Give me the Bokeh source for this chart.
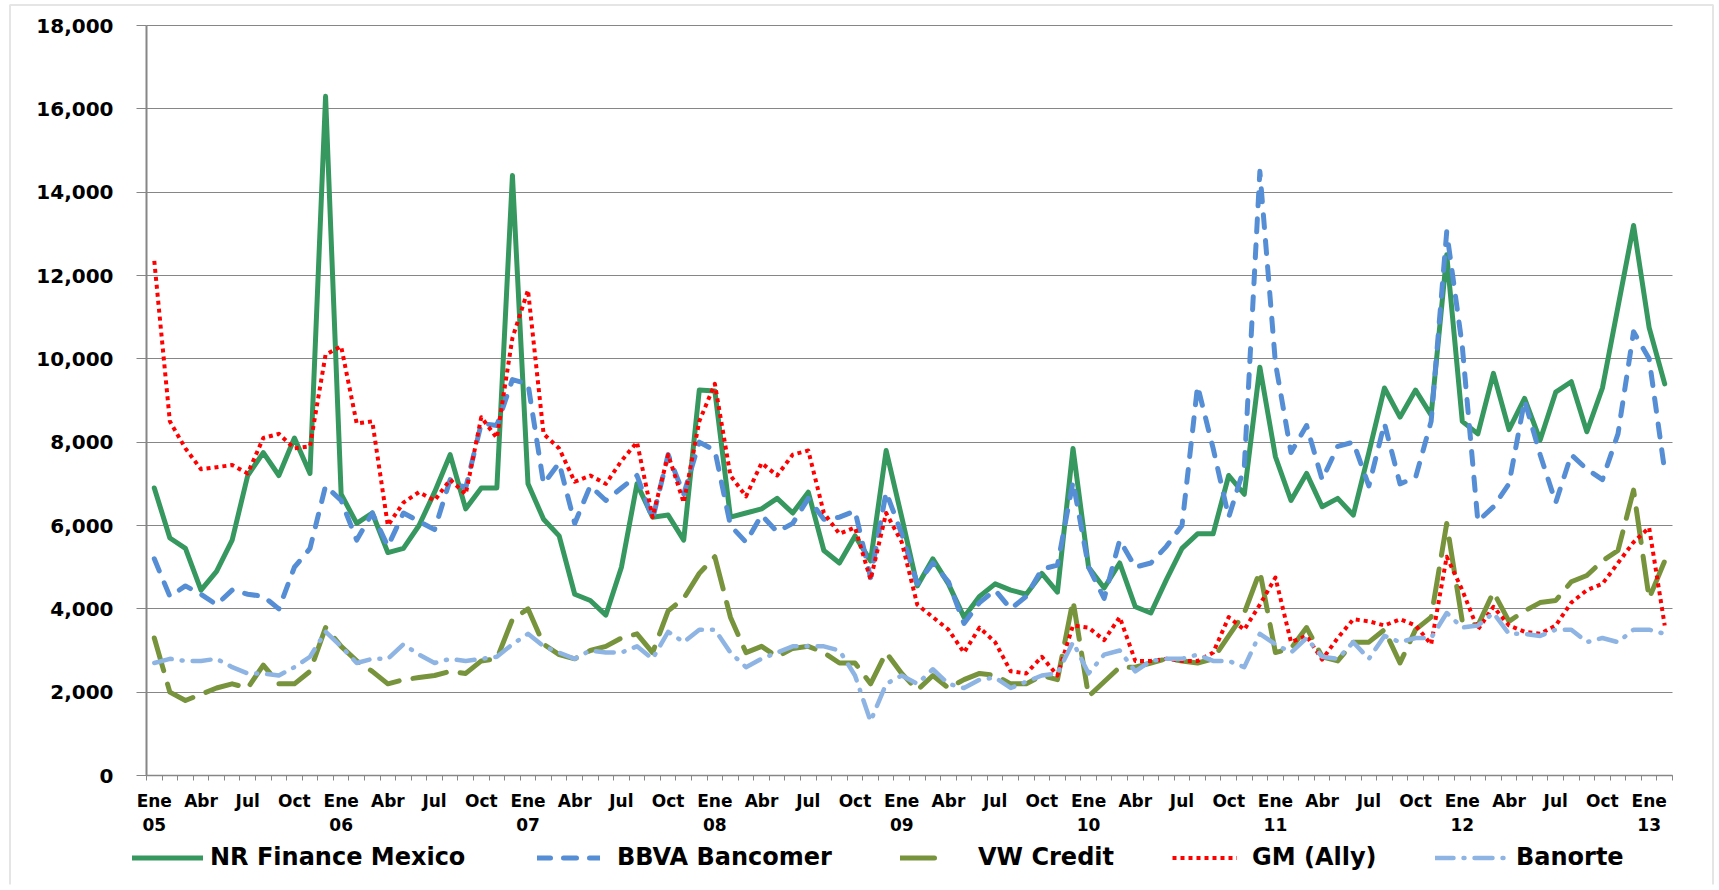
from bokeh.plotting import figure
from bokeh.models import (Range1d, FixedTicker, NumeralTickFormatter, Legend,
                          LegendItem, BoxAnnotation)
from bokeh.embed import file_html
from bokeh.resources import INLINE

# ---------------- data (monthly, Ene 2005 .. Feb 2013) ----------------
series_names = ["NR Finance Mexico", "BBVA Bancomer", "VW Credit", "GM (Ally)", "Banorte"]

nr_finance = [6900, 5700, 5450, 4450, 4900, 5650, 7200, 7750, 7200, 8100, 7250, 16300,
              6750, 6050, 6300, 5350, 5450, 6000, 6800, 7700, 6400, 6900, 6900, 14400,
              7000, 6150, 5750, 4350, 4200, 3850, 5000, 7000, 6200, 6250, 5650, 9250,
              9230, 6200, 6300, 6400, 6650, 6300, 6800, 5400, 5100, 5750, 5150, 7800,
              6200, 4550, 5200, 4600, 3800, 4300, 4600, 4450, 4350, 4850, 4400, 7850,
              5000, 4500, 5100, 4050, 3900, 4700, 5450, 5800, 5800, 7200, 6750, 9800,
              7650, 6600, 7250, 6450, 6650, 6250, 7750, 9300, 8600, 9250, 8650, 12500,
              8500, 8200, 9650, 8300, 9050, 8050, 9200, 9450, 8250, 9300, 11250, 13200,
              10750, 9400]

bbva = [5200, 4300, 4550, 4350, 4100, 4450, 4350, 4300, 4000, 5000, 5450, 6950,
        6600, 5650, 6300, 5500, 6300, 6100, 5900, 7100, 6900, 8450, 8400, 9500,
        9400, 7000, 7500, 6050, 6950, 6600, 6900, 7200, 6150, 7700, 6750, 8000,
        7800, 6000, 5600, 6250, 5850, 6050, 6650, 6150, 6200, 6350, 4750, 6800,
        5800, 4600, 5100, 4650, 3650, 4150, 4450, 4000, 4300, 4950, 5050, 7050,
        5000, 4250, 5650, 5000, 5100, 5500, 6000, 9350, 7850, 6200, 7400, 14500,
        9900, 7750, 8400, 7100, 7900, 8000, 6950, 8450, 7000, 7150, 8500, 13050,
        10300, 6100, 6450, 7000, 9000, 7700, 6550, 7700, 7350, 7100, 8200, 10650,
        10000, 7300]

vw_credit = [3300, 2000, 1800, 1950, 2100, 2200, 2100, 2650, 2200, 2200, 2500, 3550,
             3100, 2750, 2500, 2200, 2300, 2350, 2400, 2500, 2450, 2750, 2800, 3750,
             4000, 3150, 2900, 2800, 3000, 3100, 3300, 3400, 2950, 3950, 4250, 4850,
             5250, 3800, 2950, 3100, 2850, 3050, 3100, 2950, 2700, 2700, 2200, 2950,
             2450, 2050, 2400, 2100, 2300, 2450, 2400, 2200, 2200, 2400, 2300, 4200,
             1900, 2250, 2600, 2600, 2700, 2800, 2750, 2700, 2800, 3350, 3900, 4900,
             2950, 3050, 3550, 2850, 2750, 3200, 3200, 3500, 2700, 3500, 3800, 6050,
             3700, 3600, 4400, 3700, 3950, 4150, 4200, 4650, 4800, 5150, 5400, 6850,
             4250, 5150]

gm_ally = [12350, 8500, 7850, 7350, 7400, 7450, 7250, 8100, 8200, 7850, 7900, 10100,
           10300, 8450, 8500, 6000, 6550, 6800, 6600, 7100, 6750, 8600, 8100, 10500,
           11650, 8200, 7850, 7050, 7200, 7000, 7550, 8000, 6200, 7700, 6550, 8500,
           9400, 7200, 6700, 7500, 7200, 7700, 7800, 6300, 5800, 5950, 4700, 6300,
           5600, 4100, 3800, 3500, 2950, 3550, 3200, 2500, 2450, 2850, 2400, 3600,
           3550, 3250, 3800, 2750, 2750, 2800, 2750, 2750, 2950, 3800, 3500, 4100,
           4750, 3200, 3350, 2780, 3300, 3750, 3700, 3600, 3750, 3600, 3150, 5250,
           4450, 3500, 4050, 3600, 3450, 3400, 3600, 4150, 4450, 4600, 5100, 5600,
           5950, 3600]

banorte = [2700, 2800, 2750, 2750, 2800, 2600, 2450, 2450, 2400, 2600, 2850, 3450,
           3100, 2700, 2800, 2800, 3150, 2900, 2700, 2800, 2750, 2800, 2850, 3150,
           3400, 3100, 2950, 2800, 3000, 2950, 2950, 3100, 2800, 3450, 3200, 3500,
           3500, 2950, 2600, 2800, 2950, 3100, 3100, 3100, 3000, 2400, 1300, 2200,
           2400, 2200, 2550, 2200, 2100, 2300, 2350, 2100, 2250, 2400, 2450, 3200,
           2450, 2900, 3000, 2500, 2750, 2800, 2800, 2900, 2750, 2750, 2600, 3400,
           3150, 2950, 3300, 2850, 2800, 3200, 2800, 3350, 3200, 3300, 3300, 3900,
           3550, 3600, 3900, 3400, 3400, 3350, 3500, 3500, 3200, 3300, 3200, 3500,
           3500, 3400]

quarter_labels = ["Ene", "Abr", "Jul", "Oct"]
year_labels = ["05", "06", "07", "08", "09", "10", "11", "12", "13"]
y_ticks = [0, 2000, 4000, 6000, 8000, 10000, 12000, 14000, 16000, 18000]

# ---------------- figure geometry ----------------
n = len(nr_finance)
xs = [i + 0.5 for i in range(n)]
FONT = "DejaVu Sans"
GRID = "#868686"

# The frame covers almost the whole canvas; both axes are pinned at value 0,
# so the tick labels and the legend sit inside the frame.
W, H = 1717, 888
FRAME_LEFT, AXIS_X, PLOT_RIGHT, FRAME_RIGHT = 4, 146, 1672, 1717
FRAME_TOP, TOP_Y, ZERO_Y, FRAME_BOTTOM = 2, 25, 775, 884
y_per_px = y_ticks[-1] / (ZERO_Y - TOP_Y)
y_start = -(FRAME_BOTTOM - ZERO_Y) * y_per_px
y_end = y_ticks[-1] + (TOP_Y - FRAME_TOP) * y_per_px
x_per_px = n / (PLOT_RIGHT - AXIS_X)
x_start = -(AXIS_X - FRAME_LEFT) * x_per_px
x_end = n + (FRAME_RIGHT - PLOT_RIGHT) * x_per_px

p = figure(width=W, height=H, output_backend="svg", toolbar_location=None,
           title=None, x_range=Range1d(x_start, x_end), y_range=Range1d(y_start, y_end),
           min_border_left=FRAME_LEFT, min_border_right=W - FRAME_RIGHT,
           min_border_top=FRAME_TOP, min_border_bottom=H - FRAME_BOTTOM,
           background_fill_color="white", border_fill_color="white")
p.outline_line_color = None

# x axis at value 0: labels every 3 months, tick marks between months
label_pos = [i + 0.5 for i in range(0, n, 3)]
overrides = {}
for i in range(0, n, 3):
    lab = quarter_labels[(i % 12) // 3]
    if i % 12 == 0:
        lab = lab + "\n" + year_labels[i // 12]
    overrides[i + 0.5] = lab

xa = p.xaxis[0]
xa.fixed_location = 0
xa.bounds = (0, n)
xa.ticker = FixedTicker(ticks=label_pos, minor_ticks=list(range(n + 1)))
xa.major_label_overrides = overrides
xa.major_tick_in = 0
xa.major_tick_out = 0
xa.minor_tick_in = 0
xa.minor_tick_out = 5
xa.minor_tick_line_color = GRID
xa.minor_tick_line_width = 1
xa.axis_line_color = GRID
xa.axis_line_width = 1.5
xa.major_label_text_font = FONT
xa.major_label_text_font_style = "bold"
xa.major_label_text_font_size = "17px"
xa.major_label_text_color = "black"
xa.major_label_standoff = 10

ya = p.yaxis[0]
ya.fixed_location = 0
ya.bounds = (0, y_ticks[-1])
ya.ticker = FixedTicker(ticks=y_ticks)
ya.formatter = NumeralTickFormatter(format="0,0")
ya.major_tick_in = 0
ya.major_tick_out = 10
ya.minor_tick_in = 0
ya.minor_tick_out = 0
ya.major_tick_line_color = GRID
ya.axis_line_color = GRID
ya.axis_line_width = 2
ya.major_label_text_font = FONT
ya.major_label_text_font_style = "bold"
ya.major_label_text_font_size = "20px"
ya.major_label_text_color = "black"
ya.major_label_standoff = 23

p.xgrid.visible = False
p.ygrid.ticker = FixedTicker(ticks=y_ticks)
p.ygrid.grid_line_color = GRID
p.ygrid.grid_line_width = 1
p.ygrid.grid_line_alpha = 1
try:
    p.ygrid.cross_bounds = (0, n)
except Exception:
    # older Bokeh: draw the horizontal grid over the plotting area only
    p.ygrid.visible = False
    p.segment(x0=[0] * len(y_ticks), x1=[n] * len(y_ticks), y0=y_ticks, y1=y_ticks,
              line_color=GRID, line_width=1)

# light grey chart-area border
p.add_layout(BoxAnnotation(left=9.5, right=1712.5, top=4.5, bottom=900,
                           left_units="canvas", right_units="canvas",
                           top_units="canvas", bottom_units="canvas",
                           fill_alpha=0, line_color="#A9A9A9", line_width=2,
                           level="underlay"))

# ---------------- series ----------------
styles = [
    dict(line_color="#36985F", line_width=5, line_dash="solid", line_cap="round"),
    dict(line_color="#558ED5", line_width=5, line_dash="13 13", line_cap="round"),
    dict(line_color="#77933C", line_width=5, line_dash="34 14", line_cap="round"),
    dict(line_color="#FF0000", line_width=4, line_dash="4 4", line_cap="butt"),
    dict(line_color="#8EB4E3", line_width=4.5, line_dash="18 10 1 10", line_cap="round"),
]
data = [nr_finance, bbva, vw_credit, gm_ally, banorte]
renderers = []
for ys, st in zip(data, styles):
    r = p.line(xs, ys, line_join="round", **st)
    renderers.append(r)

# ---------------- legend: one entry per box, in the band under the labels ----------------
leg_x = [128, 533, 896, 1168, 1431]       # px from the frame's left edge
leg_gw = [71, 63, 47, 65, 73]
leg_sd = [7, 17, 31, 15, 8]
for r, name, lx, gw, sd in zip(renderers, series_names, leg_x, leg_gw, leg_sd):
    lg = Legend(items=[LegendItem(label=name, renderers=[r])],
                location=(lx, 13), orientation="horizontal",
                glyph_width=gw, glyph_height=27, label_height=27,
                label_standoff=sd, padding=0, margin=0, spacing=0,
                border_line_color=None, background_fill_alpha=0,
                label_text_font=FONT, label_text_font_style="bold",
                label_text_font_size="24px", label_text_color="black")
    p.add_layout(lg, "center")

open("out.html", "w").write(file_html(p, INLINE))
